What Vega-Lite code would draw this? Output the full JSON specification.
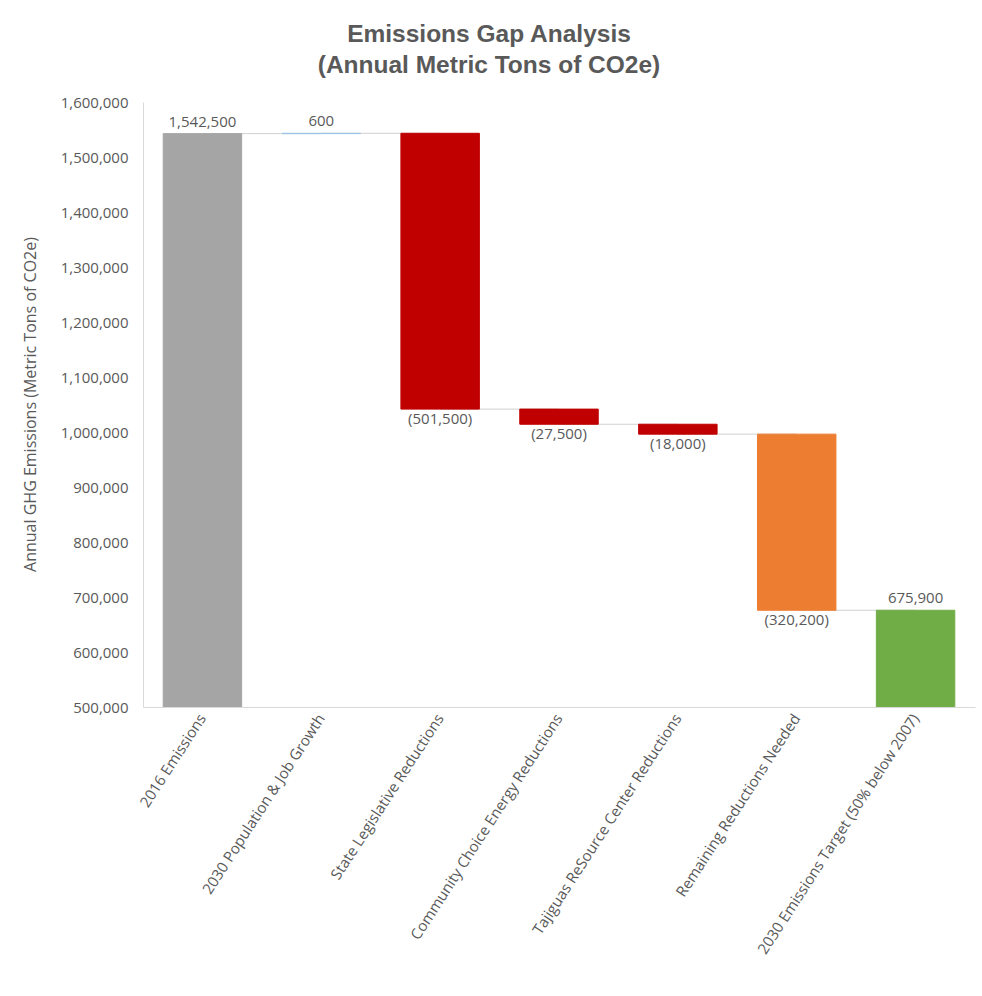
{
  "$schema": "https://vega.github.io/schema/vega-lite/v6.json",
  "width": 832,
  "height": 605,
  "autosize": "none",
  "padding": {"left": 143, "top": 102, "right": 7, "bottom": 289},
  "background": "white",
  "title": {
    "text": ["Emissions Gap Analysis", "(Annual Metric Tons of CO2e)"],
    "font": "Liberation Sans",
    "fontSize": 24.5,
    "fontWeight": "bold",
    "color": "#595959",
    "anchor": "middle",
    "dx": -70,
    "offset": 17,
    "lineHeight": 31
  },
  "datasets": {
    "steps": [
      {"category": "2016 Emissions", "start": 0, "end": 1542500, "kind": "Baseline", "label": "1,542,500"},
      {"category": "2030 Population & Job Growth", "start": 1542500, "end": 1543100, "kind": "Growth", "label": "600"},
      {"category": "State Legislative Reductions", "start": 1543100, "end": 1041600, "kind": "Reduction", "label": "(501,500)"},
      {"category": "Community Choice Energy Reductions", "start": 1041600, "end": 1014100, "kind": "Reduction", "label": "(27,500)"},
      {"category": "Tajiguas ReSource Center Reductions", "start": 1014100, "end": 996100, "kind": "Reduction", "label": "(18,000)"},
      {"category": "Remaining Reductions Needed", "start": 996100, "end": 675900, "kind": "Gap", "label": "(320,200)"},
      {"category": "2030 Emissions Target (50% below 2007)", "start": 0, "end": 675900, "kind": "Target", "label": "675,900"}
    ],
    "connectors": [
      {"from": "2016 Emissions", "to": "2030 Population & Job Growth", "level": 1542500},
      {"from": "2030 Population & Job Growth", "to": "State Legislative Reductions", "level": 1543100},
      {"from": "State Legislative Reductions", "to": "Community Choice Energy Reductions", "level": 1041600},
      {"from": "Community Choice Energy Reductions", "to": "Tajiguas ReSource Center Reductions", "level": 1014100},
      {"from": "Tajiguas ReSource Center Reductions", "to": "Remaining Reductions Needed", "level": 996100},
      {"from": "Remaining Reductions Needed", "to": "2030 Emissions Target (50% below 2007)", "level": 675900}
    ]
  },
  "config": {
    "view": {"stroke": null},
    "font": "Open Sans",
    "axis": {
      "labelFont": "Open Sans",
      "labelColor": "#595959",
      "labelFontSize": 15,
      "titleFont": "Open Sans",
      "titleColor": "#595959",
      "titleFontWeight": "normal",
      "domainColor": "#d9d9d9",
      "ticks": false,
      "grid": false
    }
  },
  "encoding": {
    "x": {
      "field": "category",
      "type": "nominal",
      "sort": null,
      "scale": {
        "domain": [
          "2016 Emissions",
          "2030 Population & Job Growth",
          "State Legislative Reductions",
          "Community Choice Energy Reductions",
          "Tajiguas ReSource Center Reductions",
          "Remaining Reductions Needed",
          "2030 Emissions Target (50% below 2007)"
        ],
        "paddingInner": 0.34,
        "paddingOuter": 0.17
      },
      "axis": {
        "title": null,
        "labelAngle": -57,
        "labelAlign": "right",
        "labelBaseline": "middle",
        "labelPadding": 8,
        "labelLimit": 0
      }
    }
  },
  "layer": [
    {
      "data": {"name": "connectors"},
      "mark": {"type": "rule", "color": "#d0d0d0", "strokeWidth": 1},
      "encoding": {
        "x": {"field": "from", "type": "nominal"},
        "x2": {"field": "to"},
        "y": {"field": "level", "type": "quantitative"}
      }
    },
    {
      "data": {"name": "steps"},
      "mark": {"type": "bar", "clip": true, "strokeWidth": 1},
      "encoding": {
        "y": {
          "field": "start",
          "type": "quantitative",
          "scale": {"domain": [500000, 1600000], "nice": false, "zero": false},
          "axis": {
            "title": "Annual GHG Emissions (Metric Tons of CO2e)",
            "titleFontSize": 16,
            "titleX": -113,
            "titleY": 302,
            "titleAlign": "center",
            "titleBaseline": "middle",
            "titleAngle": -90,
            "values": [500000, 600000, 700000, 800000, 900000, 1000000, 1100000, 1200000, 1300000, 1400000, 1500000, 1600000],
            "format": ",d",
            "labelPadding": 15
          }
        },
        "y2": {"field": "end"},
        "color": {
          "field": "kind",
          "type": "nominal",
          "scale": {
            "domain": ["Baseline", "Growth", "Reduction", "Gap", "Target"],
            "range": ["#a5a5a5", "#9dc3e6", "#c00000", "#ed7d31", "#70ad47"]
          },
          "legend": null
        },
        "stroke": {
          "field": "kind",
          "type": "nominal",
          "scale": {
            "domain": ["Baseline", "Growth", "Reduction", "Gap", "Target"],
            "range": ["#a5a5a5", "#9dc3e6", "#c00000", "#ed7d31", "#70ad47"]
          },
          "legend": null
        }
      }
    },
    {
      "data": {"name": "steps"},
      "transform": [{"filter": "datum.end >= datum.start"}],
      "mark": {"type": "text", "baseline": "bottom", "dy": -4, "fontSize": 15, "color": "#595959", "font": "Open Sans"},
      "encoding": {
        "y": {"field": "end", "type": "quantitative"},
        "text": {"field": "label"}
      }
    },
    {
      "data": {"name": "steps"},
      "transform": [{"filter": "datum.end < datum.start"}],
      "mark": {"type": "text", "baseline": "top", "dy": 3, "fontSize": 15, "color": "#595959", "font": "Open Sans"},
      "encoding": {
        "y": {"field": "end", "type": "quantitative"},
        "text": {"field": "label"}
      }
    }
  ]
}
